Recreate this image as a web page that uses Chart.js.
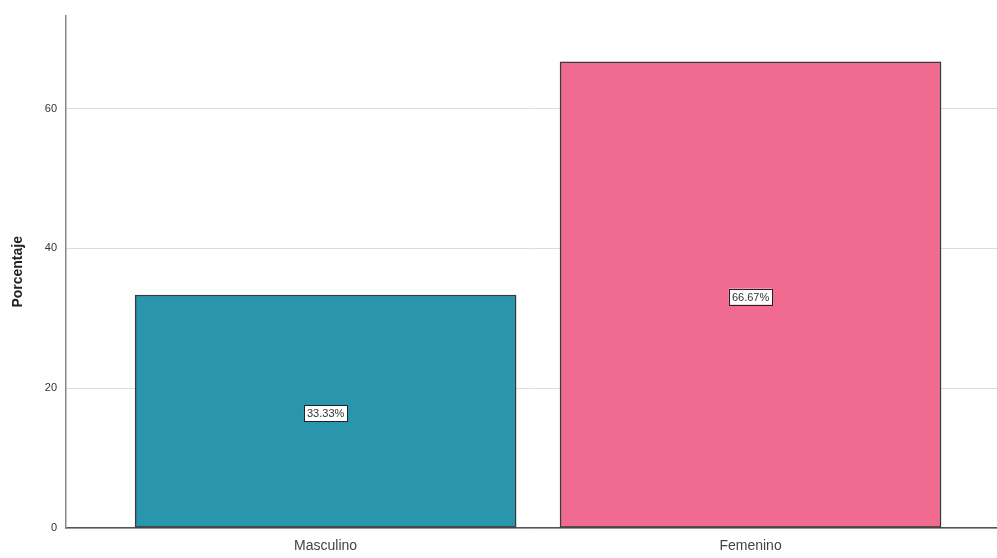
<!DOCTYPE html>
<html>
<head>
<meta charset="utf-8">
<script src="https://cdn.jsdelivr.net/npm/chart.js@4"></script>
<style>
  html, body { margin: 0; padding: 0; background: #fff; }
  #wrap { width: 997px; height: 558px; }
</style>
</head>
<body>
<div id="wrap"><canvas id="barChart"></canvas></div>
<script>
const categories = ['Masculino', 'Femenino'];
const percentages = [33.33, 66.67];
const yTicks = [0, 20, 40, 60];
const barColors = ['#2a96ae', '#f06b8f'];

// white boxed value labels in the middle of each bar
const boxLabels = {
    id: 'boxLabels',
    afterDatasetsDraw(chart) {
        const ctx = chart.ctx;
        const meta = chart.getDatasetMeta(0);
        ctx.save();
        ctx.font = '11px "Liberation Sans", Arial, sans-serif';
        ctx.textAlign = 'center';
        ctx.textBaseline = 'middle';
        meta.data.forEach((bar, i) => {
            const txt = percentages[i].toFixed(2) + '%';
            const cy = (bar.y + bar.base) / 2 + 2;
            const w = ctx.measureText(txt).width + 6;
            const h = 16;
            ctx.fillStyle = '#fff';
            ctx.fillRect(bar.x - w / 2, cy - h / 2, w, h);
            ctx.strokeStyle = '#222';
            ctx.lineWidth = 1;
            ctx.strokeRect(Math.round(bar.x - w / 2) + 0.5, Math.round(cy - h / 2) + 0.5, Math.round(w), h);
            ctx.fillStyle = '#333';
            ctx.fillText(txt, bar.x, cy + 1);
        });
        ctx.restore();
    }
};

const ctx = document.getElementById('barChart').getContext('2d');
const myChart = new Chart(ctx, {
    type: 'bar',
    data: {
        datasets: [{
            label: 'Porcentaje',
            data: percentages.map((v, i) => ({ x: i + 1, y: v })),
            backgroundColor: barColors,
            borderColor: '#3a3a3a',
            borderWidth: 1.5,
            borderSkipped: false,
            barThickness: 381
        }]
    },
    options: {
        responsive: true,
        maintainAspectRatio: false,
        animation: false,
        layout: { padding: { top: 15, right: 0, left: 0, bottom: 0 } },
        plugins: {
            legend: { display: false },
            tooltip: { enabled: false }
        },
        scales: {
            x: {
                type: 'linear',
                offset: false,
                min: 0.389,
                max: 2.58,
                afterBuildTicks: s => { s.ticks = categories.map((c, i) => ({ value: i + 1 })); },
                afterFit: s => { s.height = 30; },
                grid: { display: false, drawTicks: false },
                border: { display: true, color: '#555', width: 1.5 },
                ticks: {
                    padding: 10,
                    autoSkip: false,
                    maxRotation: 0,
                    color: '#444',
                    font: { family: '"Liberation Sans", Arial, sans-serif', size: 14 },
                    callback: v => categories[v - 1]
                }
            },
            y: {
                min: 0,
                max: 73.3,
                afterBuildTicks: s => { s.ticks = yTicks.map(v => ({ value: v })); },
                afterFit: s => { s.width = 66; },
                grid: { color: '#dcdcdc', drawTicks: false },
                border: { display: true, color: '#888', width: 1.5 },
                ticks: {
                    padding: 9,
                    color: '#333',
                    font: { family: '"Liberation Sans", Arial, sans-serif', size: 11 }
                },
                title: {
                    display: true,
                    text: 'Porcentaje',
                    color: '#222',
                    padding: { top: 10, bottom: 0 },
                    font: { family: '"Liberation Sans", Arial, sans-serif', size: 14, weight: 'bold' }
                }
            }
        }
    },
    plugins: [boxLabels]
});
</script>
</body>
</html>
